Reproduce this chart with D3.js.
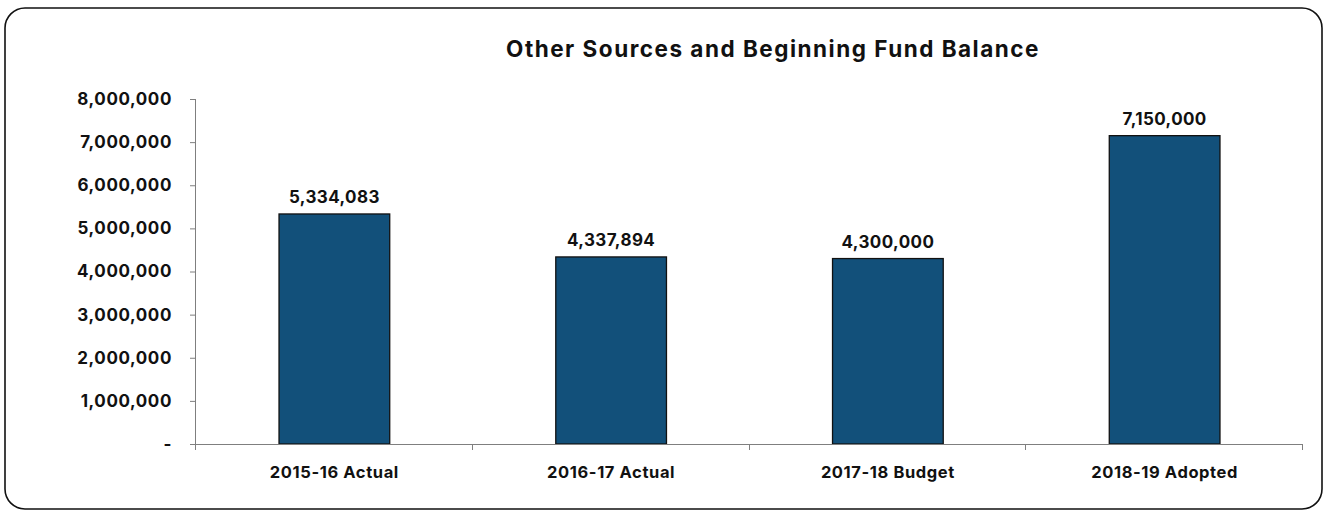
<!DOCTYPE html>
<html>
<head>
<meta charset="utf-8">
<script src="https://cdn.jsdelivr.net/npm/d3@7/dist/d3.min.js"></script>
<style>
  html, body { margin: 0; padding: 0; background: #fff; }
  svg { display: block; }
  text { font-family: Inter, "Open Sans", sans-serif; font-weight: 700; fill: #111; }
</style>
</head>
<body>
<svg id="chart" width="1326" height="513"></svg>
<script>
// Chart data
const title = "Other Sources and Beginning Fund Balance";
const categories = ["2015-16 Actual", "2016-17 Actual", "2017-18 Budget", "2018-19 Adopted"];
const values = [5334083, 4337894, 4300000, 7150000];
const yTicks = [0, 1000000, 2000000, 3000000, 4000000, 5000000, 6000000, 7000000, 8000000];

const svg = d3.select("#chart");
const W = 1326, H = 513;
const margin = { left: 196, right: 23, top: 99, bottom: 69 };
const plotW = W - margin.left - margin.right;
const plotH = H - margin.top - margin.bottom;

// Rounded frame around the whole chart
svg.append("rect")
  .attr("x", 5).attr("y", 8)
  .attr("width", 1317).attr("height", 501)
  .attr("rx", 20).attr("ry", 20)
  .attr("fill", "#fff").attr("stroke", "#111").attr("stroke-width", 1.6);

svg.append("text")
  .attr("x", 773).attr("y", 57)
  .attr("text-anchor", "middle")
  .style("font-size", "22.5px")
  .style("letter-spacing", "1.5px")
  .text(title);

const g = svg.append("g").attr("transform", `translate(${margin.left},${margin.top})`);

const x = d3.scaleBand().domain(categories).range([0, plotW]).paddingInner(0.6).paddingOuter(0.3);
const y = d3.scaleLinear().domain([0, 8000000]).range([plotH, 0]);

const fmt = d3.format(",");

// Y axis
const yAxis = g.append("g")
  .call(d3.axisLeft(y).tickValues(yTicks).tickSize(6).tickPadding(18)
    .tickFormat(d => d === 0 ? "-" : fmt(d)));
yAxis.select(".domain").attr("stroke", "#7f7f7f").attr("d", `M-0.5,0.5V${plotH + 6}`);
yAxis.selectAll(".tick line").attr("stroke", "#7f7f7f");
yAxis.selectAll(".tick text")
  .style("font-size", "17px")
  .style("letter-spacing", "0.6px")
  .attr("fill", "#111");

// Bars
g.selectAll("rect.bar").data(values).join("rect")
  .attr("class", "bar")
  .attr("x", (d, i) => x(categories[i]))
  .attr("y", d => y(d))
  .attr("width", x.bandwidth())
  .attr("height", d => plotH - y(d))
  .attr("fill", "#12507a")
  .attr("stroke", "#111")
  .attr("stroke-width", 1.3);

// Value labels
g.selectAll("text.val").data(values).join("text")
  .attr("class", "val")
  .attr("x", (d, i) => x(categories[i]) + x.bandwidth() / 2)
  .attr("y", d => y(d) - 11)
  .attr("text-anchor", "middle")
  .style("font-size", "17px")
  .style("letter-spacing", "0.4px")
  .text(d => fmt(d));

// X axis with ticks between categories
const xb = d3.scaleLinear().domain([0, categories.length]).range([0, plotW]);
const xAxis = g.append("g").attr("transform", `translate(0,${plotH})`);
xAxis.append("line").attr("x1", -6).attr("x2", plotW).attr("y1", 0.5).attr("y2", 0.5)
  .attr("stroke", "#7f7f7f");
xAxis.selectAll("line.tk").data(d3.range(categories.length + 1)).join("line")
  .attr("class", "tk")
  .attr("x1", d => Math.round(xb(d)) - 0.5).attr("x2", d => Math.round(xb(d)) - 0.5)
  .attr("y1", 0).attr("y2", 6)
  .attr("stroke", "#7f7f7f");
xAxis.selectAll("text.cat").data(categories).join("text")
  .attr("class", "cat")
  .attr("x", d => x(d) + x.bandwidth() / 2)
  .attr("y", 34)
  .attr("text-anchor", "middle")
  .style("font-size", "16.5px")
  .style("letter-spacing", "0.6px")
  .text(d => d);
</script>
</body>
</html>
